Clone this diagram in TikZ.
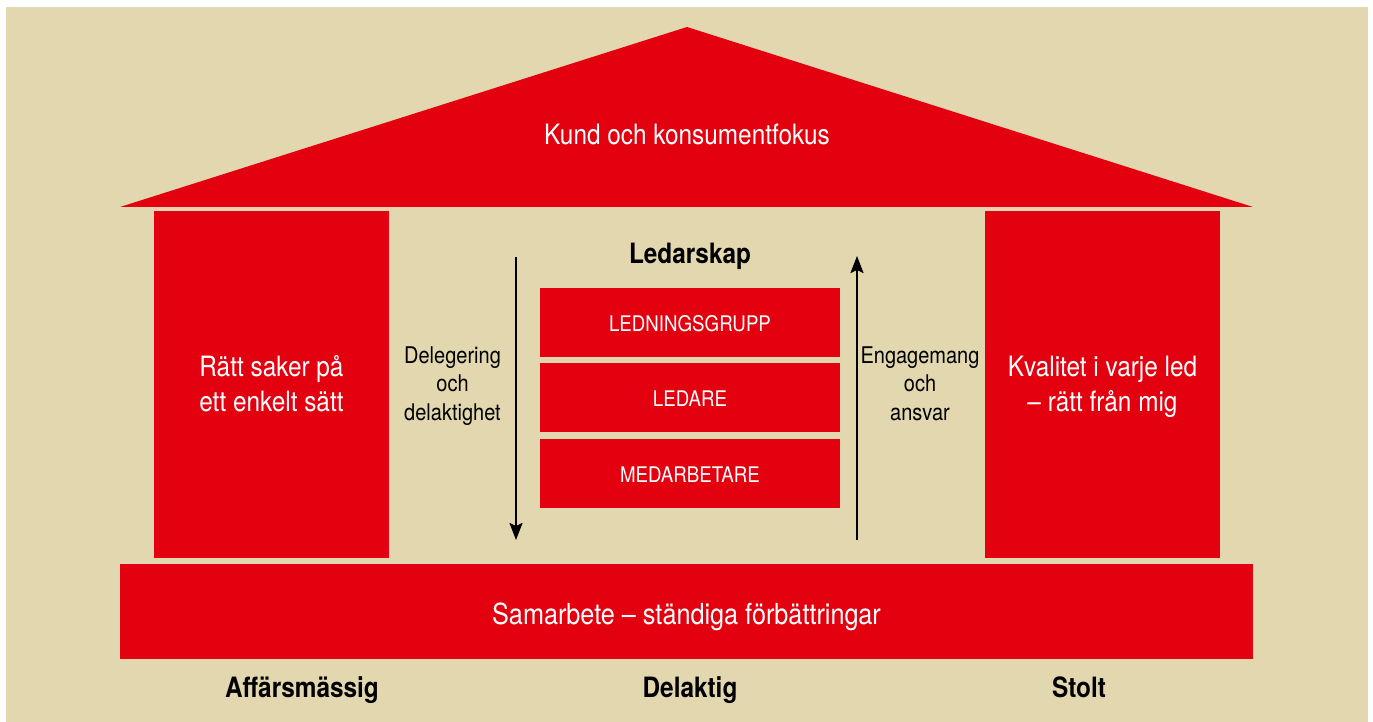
\documentclass[tikz,border=0pt]{standalone}
\usepackage{fontspec}
\setmainfont{TeX Gyre Heros}[FakeStretch=0.87]
\usetikzlibrary{arrows.meta}
\definecolor{paper}{RGB}{226,215,174}
\definecolor{hred}{RGB}{227,0,15}
\begin{document}
\begin{tikzpicture}[x=1pt,y=-1pt,
  redbox/.style={fill=hred, draw=none, inner sep=0pt, text=white},
  pillar/.style={redbox, minimum width=235pt, minimum height=347pt},
  pillartext/.style={align=center, text=white, inner sep=0pt, anchor=base, font=\fontsize{28}{35}\selectfont},
  levelbox/.style={redbox, minimum width=300pt, minimum height=69pt, text height=18pt, text depth=0pt, font=\fontsize{21.5}{26}\selectfont},
  sidetext/.style={align=center, inner sep=0pt, anchor=base, text=black, font=\fontsize{23}{28.5}\selectfont},
  footlabel/.style={inner sep=0pt, anchor=base, text=black, font=\fontsize{28}{34}\bfseries\selectfont},
  flow/.style={-{Stealth[length=17pt,width=13pt,inset=3pt]}, line width=2pt, draw=black},
]
% page and paper
\fill[white] (0,0) rectangle (1373,722);
\useasboundingbox (0,0) rectangle (1373,722);
\fill[paper] (6,7) rectangle (1368,722);

% roof
\coordinate (apex) at (687,27);
\coordinate (eaveR) at (1253,207);
\coordinate (eaveL) at (120,207);
\fill[hred] (apex) -- (eaveR) -- (eaveL) -- cycle;
\node[inner sep=0pt, anchor=base, text=white, font=\fontsize{28}{34}\selectfont] (roof) at (687,145) {Kund och konsumentfokus};

% pillars (base anchor = baseline of last line)
\node[pillar] (leftpillar) at (271.5,384.5) {};
\node[pillartext] (lefttext) at (271.5,411) {Rätt saker på\\ett enkelt sätt};
\node[pillar] (rightpillar) at (1102.5,384.5) {};
\node[pillartext] (righttext) at (1102.5,411) {Kvalitet i varje led\\– rätt från mig};

% foundation
\node[redbox, minimum width=1133pt, minimum height=95pt, text height=25pt, text depth=0pt, font=\fontsize{29}{35}\selectfont] (base) at (686.5,611.5) {Samarbete – ständiga förbättringar};

% leadership levels
\node[footlabel] (ledarskap) at (690,263) {Ledarskap};
\node[levelbox] (lg) at (690,322.5) {LEDNINGSGRUPP};
\node[levelbox] (le) at (690,397.5) {LEDARE};
\node[levelbox] (me) at (690,473.5) {MEDARBETARE};

% arrows
\coordinate (dtop) at (516,257);
\coordinate (dbot) at (516,540);
\draw[flow] (dtop) -- (dbot);
\coordinate (ubot) at (857,540);
\coordinate (utop) at (857,256);
\draw[flow] (ubot) -- (utop);

\node[sidetext] (deleg) at (452.5,420) {Delegering\\och\\delaktighet};
\node[sidetext] (engag) at (920,420) {Engagemang\\och\\ansvar};

% values
\node[footlabel] (aff) at (302,697) {Affärsmässig};
\node[footlabel] (del) at (690,697) {Delaktig};
\node[footlabel] (sto) at (1079,697) {Stolt};
\end{tikzpicture}
\end{document}
